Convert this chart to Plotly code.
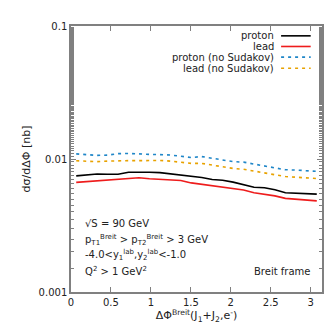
import numpy as np
import plotly.graph_objects as go

# bin centres of 24 bins over [0, pi]
nbins = 24
dphi = [(i + 0.5) * np.pi / nbins for i in range(nbins)]

proton = [0.00747, 0.00761, 0.00771, 0.00767, 0.00767, 0.00794, 0.00799, 0.00794,
          0.00790, 0.00772, 0.00763, 0.00744, 0.00726, 0.00701, 0.00693, 0.00670,
          0.00645, 0.00613, 0.00608, 0.00587, 0.00558, 0.00553, 0.00547, 0.00544]
lead = [0.00667, 0.00676, 0.00687, 0.00692, 0.00701, 0.00710, 0.00722, 0.00711,
        0.00707, 0.00699, 0.00690, 0.00661, 0.00645, 0.00623, 0.00613, 0.00595,
        0.00585, 0.00558, 0.00542, 0.00528, 0.00506, 0.00499, 0.00489, 0.00484]
proton_nosud = [0.01092, 0.01073, 0.01064, 0.01070, 0.01097, 0.01101, 0.01088, 0.01083,
                0.01079, 0.01072, 0.01048, 0.01026, 0.01043, 0.01012, 0.00990, 0.00955,
                0.00947, 0.00919, 0.00888, 0.00859, 0.00830, 0.00826, 0.00819, 0.00807]
lead_nosud = [0.00970, 0.00959, 0.00955, 0.00964, 0.00972, 0.00972, 0.00972, 0.00975,
              0.00975, 0.00964, 0.00951, 0.00927, 0.00927, 0.00896, 0.00874, 0.00849,
              0.00838, 0.00812, 0.00783, 0.00761, 0.00738, 0.00728, 0.00722, 0.00713]

names = ["proton", "lead", "proton (no Sudakov)", "lead (no Sudakov)"]
colors = ["#000000", "#ee1c1c", "#1f86c8", "#e8a200"]
dashes = ["solid", "solid", "3px,4px", "3px,4px"]
series = [proton, lead, proton_nosud, lead_nosud]

x_ticks = [0, 0.5, 1, 1.5, 2, 2.5, 3]
x_ticktext = ["0", "0.5", "1", "1.5", "2", "2.5", "3"]
y_ticks = [0.001, 0.01, 0.1]
y_ticktext = ["0.001", "0.01", "0.1"]

FONT = "DejaVu Sans"
AX = "#808080"

fig = go.Figure()
for n, c, d, s in zip(names, colors, dashes, series):
    fig.add_trace(go.Scatter(x=dphi, y=s, mode="lines", name=n,
                             line=dict(color=c, width=1.6, dash=d),
                             showlegend=False))

fig.update_layout(
    width=332, height=332,
    margin=dict(l=63, r=18, t=12, b=48),
    paper_bgcolor="white", plot_bgcolor="white",
    font=dict(family=FONT, size=10, color="#222222"),
    showlegend=False,
)
fig.update_xaxes(
    range=[0, np.pi], tickvals=x_ticks, ticktext=x_ticktext,
    ticks="inside", ticklen=5, tickcolor=AX, tickwidth=1,
    showline=True, linecolor=AX, linewidth=1.5, mirror="allticks",
    showgrid=False, zeroline=False,
    tickfont=dict(family=FONT, size=10, color="#222222"),
    title=dict(text="ΔΦ<sup>Breit</sup>(J<sub>1</sub>+J<sub>2</sub>,e<sup>-</sup>)",
               font=dict(family=FONT, size=11, color="#222222"), standoff=4),
)
fig.update_yaxes(
    type="log", range=[-3, -1], tickvals=y_ticks, ticktext=y_ticktext,
    ticks="inside", ticklen=5, tickcolor=AX, tickwidth=1,
    minor=dict(ticks="inside", ticklen=3, tickcolor=AX, showgrid=False),
    showline=True, linecolor=AX, linewidth=1.5, mirror="allticks",
    showgrid=False, zeroline=False,
    tickfont=dict(family=FONT, size=10, color="#222222"),
    title=dict(text="dσ/dΔΦ [nb]", font=dict(family=FONT, size=11, color="#222222"),
               standoff=6),
)

# gnuplot-style legend: text right-aligned, line sample to the right
leg_y = [0.963, 0.923, 0.883, 0.841]
for n, c, d, yy in zip(names, colors, dashes, leg_y):
    fig.add_annotation(xref="paper", yref="paper", x=0.815, y=yy, text=n,
                       showarrow=False, xanchor="right", yanchor="middle",
                       font=dict(family=FONT, size=10, color="#222222"))
    fig.add_shape(type="line", xref="paper", yref="paper",
                  x0=0.837, x1=0.955, y0=yy, y1=yy,
                  line=dict(color=c, width=1.6, dash=d))

info = [
    ("√S = 90 GeV", 0.257),
    ("p<sub>T1</sub><sup>Breit</sup> > p<sub>T2</sub><sup>Breit</sup> > 3 GeV", 0.195),
    ("-4.0<y<sub>1</sub><sup>lab</sup>,y<sub>2</sub><sup>lab</sup><-1.0", 0.140),
    ("Q<sup>2</sup> > 1 GeV<sup>2</sup>", 0.078),
]
for t, yy in info:
    fig.add_annotation(xref="paper", yref="paper", x=0.048, y=yy, text=t,
                       showarrow=False, xanchor="left", yanchor="middle",
                       font=dict(family=FONT, size=10, color="#222222"))
fig.add_annotation(xref="paper", yref="paper", x=0.962, y=0.076, text="Breit frame",
                   showarrow=False, xanchor="right", yanchor="middle",
                   font=dict(family=FONT, size=10, color="#222222"))

fig.write_html("out.html")
